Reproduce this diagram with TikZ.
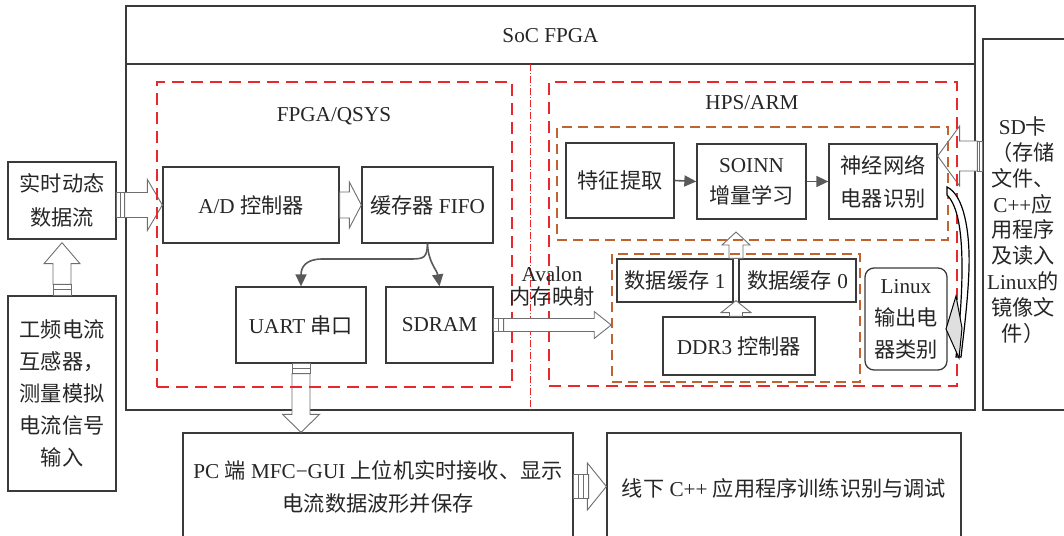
\documentclass[tikz,border=0pt]{standalone}
\usepackage{fontspec}
\setmainfont{Liberation Serif}
\newfontfamily\cjk{Noto Sans CJK SC}
\usetikzlibrary{arrows.meta,calc}
\newcommand\zh[1]{{\cjk #1}}

\definecolor{boxc}{HTML}{3A3A3A}
\definecolor{txt}{HTML}{262626}
\definecolor{redc}{HTML}{E8282C}
\definecolor{orgc}{HTML}{C0632F}
\definecolor{flowc}{HTML}{595959}
\definecolor{hollc}{HTML}{6E6E6E}

% hollow block arrow: from, to, shaft half-width, head half-width,
% head length, tail length, number of tail strips
\newcommand\hollowarrow[7]{%
  \path let \p1=#1, \p2=#2 in
    \pgfextra{%
      \pgfmathparse{veclen(\x2-\x1,\y2-\y1)}\xdef\haL{\pgfmathresult}%
      \pgfmathparse{atan2(\y2-\y1,\x2-\x1)}\xdef\haA{\pgfmathresult}%
      \xdef\haX{\x1}\xdef\haY{\y1}};
  \begin{scope}[shift={(\haX,\haY)}, rotate=\haA, x=1pt, y=1pt]
    \draw[hollow] (#6,-#3) -- ({\haL-#5},-#3) -- ({\haL-#5},-#4) -- (\haL,0)
      -- ({\haL-#5},#4) -- ({\haL-#5},#3) -- (#6,#3) -- cycle;
    \ifnum#7>0
      \foreach \k in {1,...,#7}{\draw[hollow] ({(\k-1)*#6/#7},-#3) rectangle ({\k*#6/#7},#3);}
    \fi
  \end{scope}
}

\tikzset{
  lh/.style={font=\fontsize{21.2}{#1}\selectfont},
  box/.style={draw=boxc, line width=1.3pt, inner sep=0pt, text=txt, align=center, lh=32},
  lbl/.style={inner sep=0pt, text=txt, align=center, lh=32},
  redgrp/.style={draw=redc, line width=1.6pt, dash pattern=on 12pt off 7pt, inner sep=0pt},
  orggrp/.style={draw=orgc, line width=1.6pt, dash pattern=on 10pt off 6pt, inner sep=0pt},
  flow/.style={draw=flowc, line width=1.6pt, -{Triangle[length=12pt,width=11pt]}},
  hollow/.style={draw=hollc, fill=white, line width=0.9pt},
  divider/.style={draw=redc, line width=0.7pt, dash pattern=on 7pt off 2pt on 1pt off 2pt},
}

\begin{document}
\begin{tikzpicture}[x=1pt, y=-1pt]
\useasboundingbox (0,0) rectangle (1064,535);
\clip (0,0) rectangle (1064,535);

% SoC frame with title band
\node[box, minimum width=849pt, minimum height=404pt] (soc) at (550.5,208) {};
\draw[draw=boxc, line width=1.3pt] (soc.west |- 0,64) -- (soc.east |- 0,64);
\node[lbl] (soctitle) at (550.5,36) {SoC FPGA};

% SD card
\node[box, minimum width=92pt, minimum height=371pt] (sd) at (1029,224.5) {};
\node[lbl, lh=25.8] (sdtxt) at (1023,230) {SD\zh{卡}\\\zh{（存储}\\\zh{文件、}\\C++\zh{应}\\\zh{用程序}\\\zh{及读入}\\Linux\zh{的}\\\zh{镜像文}\\\zh{件）}};

% external inputs
\node[box, lh=34, minimum width=108pt, minimum height=77pt] (rt) at (62,200.5) {\zh{实时动态}\\\zh{数据流}};
\node[box, minimum width=108pt, minimum height=195pt] (ct) at (62,393.5) {\zh{工频电流}\\\zh{互感器，}\\\zh{测量模拟}\\\zh{电流信号}\\\zh{输入}};

% FPGA side
\node[box, minimum width=176pt, minimum height=76pt] (ad) at (251,205) {A/D \zh{控制器}};
\node[box, minimum width=131pt, minimum height=76pt] (fifo) at (427.5,205) {\zh{缓存器} FIFO};
\node[box, minimum width=130pt, minimum height=76pt] (uart) at (301,325) {UART \zh{串口}};
\node[box, minimum width=107pt, minimum height=76pt] (sdram) at (439.5,325) {SDRAM};

% HPS side
\node[box, minimum width=108pt, minimum height=75pt] (tz) at (620,180.5) {\zh{特征提取}};
\node[box, lh=31, minimum width=109pt, minimum height=75pt] (soinn) at (751.5,181.5) {SOINN\\\zh{增量学习}};
\node[box, lh=33, minimum width=108pt, minimum height=75pt] (nn) at (883,181.5) {\zh{神经网络}\\\zh{电器识别}};
\node[box, minimum width=116pt, minimum height=43pt] (buf1) at (675,280.5) {\zh{数据缓存} 1};
\node[box, minimum width=117pt, minimum height=43pt] (buf0) at (797.5,280.5) {\zh{数据缓存} 0};
\node[box, minimum width=152pt, minimum height=58pt] (ddr) at (739,346) {DDR3 \zh{控制器}};
\node[box, rounded corners=9pt, minimum width=82pt, minimum height=102pt] (linux) at (906,319) {Linux\\\zh{输出电}\\\zh{器类别}};
\coordinate (gap) at ($(buf1.east)!0.5!(buf0.west)$);

% PC side
\node[box, lh=33, minimum width=390pt, minimum height=107pt] (pc) at (378,486.5) {PC \zh{端} MFC−GUI \zh{上位机实时接收、显示}\\\zh{电流数据波形并保存}};
\node[box, minimum width=354pt, minimum height=110pt] (off) at (784,488) {\zh{线下} C++ \zh{应用程序训练识别与调试}};

% block arrows
\hollowarrow{(ct.north)}{($(rt.south)+(0,3)$)}{9}{18}{21}{11}{2}
\hollowarrow{(rt.east |- ad.west)}{(ad.west)}{12.5}{25.5}{15}{8}{2}
\hollowarrow{(ad.east)}{(fifo.west)}{13}{23}{12}{0}{0}
\hollowarrow{(uart.south)}{(uart.south |- pc.north)}{9}{18.5}{18}{10}{2}
\hollowarrow{(pc.east)}{(off.west |- pc.east)}{12}{23.5}{19}{15}{3}
\hollowarrow{(sd.west |- 0,156)}{(nn.east |- 0,156)}{15}{30}{22}{5}{2}
\hollowarrow{(gap |- buf0.north)}{(gap |- 0,232)}{7}{14}{13}{0}{0}
\hollowarrow{(gap |- ddr.north)}{($(gap |- buf0.south)+(0,-2)$)}{6.5}{15}{12}{0}{0}

% groups
\node[redgrp, minimum width=355pt, minimum height=305pt] (fpga) at (334.5,234.5) {};
\node[lbl] (fpgatitle) at (334,116) {FPGA/QSYS};
\node[redgrp, minimum width=408pt, minimum height=304pt] (hps) at (753,234) {};
\node[lbl] (hpstitle) at (752,103) {HPS/ARM};
\node[orggrp, minimum width=391pt, minimum height=113pt] (grpU) at (752.5,183.5) {};
\node[orggrp, minimum width=248pt, minimum height=128pt] (grpL) at (736,318) {};
\draw[divider] (530,64) -- (530,410);

% Avalon memory-mapped link
\hollowarrow{(sdram.east)}{(grpL.west |- sdram.east)}{6.5}{13.5}{17}{10}{2}
\node[lbl, lh=23] (av) at (552,286.5) {Avalon\\\zh{内存映射}};

% data flow
\draw[flow] (fifo.south) .. controls (427,258) and (424,259) .. (410,259) -- (322,259)
  .. controls (305,259) and (301,268) .. (uart.north);
\draw[flow] (fifo.south) .. controls (428,262) and (437,270) .. (sdram.north);
\draw[flow] (tz.east) -- (soinn.west);
\draw[flow] (soinn.east) -- (nn.west);

% curved arrow from recognition result to Linux output
\draw[line width=1.2pt, fill=white] (947,187) .. controls (964,195) and (970,232) .. (969,268)
  .. controls (968,300) and (964,330) .. (961,357) -- (956,357)
  .. controls (959,330) and (962,300) .. (962,268)
  .. controls (962,232) and (958,206) .. (947,195) -- cycle;
\draw[line width=1pt, fill=gray!25] (956,296) -- (946,329) -- (959,358) -- (962,328) -- cycle;
\end{tikzpicture}
\end{document}
